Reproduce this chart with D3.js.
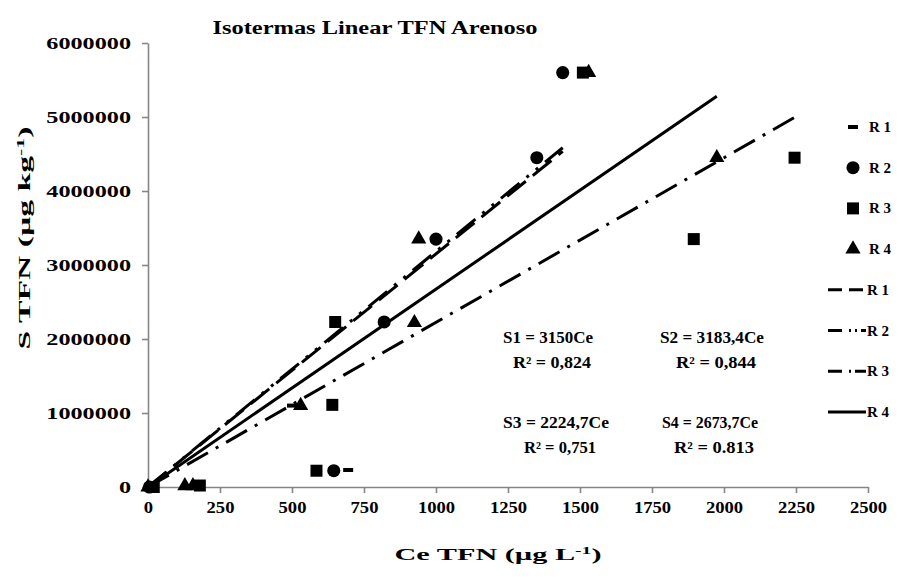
<!DOCTYPE html>
<html>
<head>
<meta charset="utf-8">
<script src="https://cdn.jsdelivr.net/npm/d3@7"></script>
<style>
  body { margin: 0; background: #fff; }
  text { font-family: "Liberation Serif", "Times New Roman", serif; font-weight: bold; fill: #000; }
</style>
</head>
<body>
<div id="chart"></div>
<script>
// series values (Ce in µg/L, S in µg/kg)
var r1X = [15, 500, 695, 820, 1000, 1350, 1440];
var r1Y = [0, 1100000, 230000, 2230000, 3350000, 4450000, 5600000];
var r2X = [5, 645, 820, 1000, 1350, 1440];
var r2Y = [0, 220000, 2230000, 3350000, 4450000, 5600000];
var r3X = [20, 180, 585, 640, 650, 1510, 1895, 2245];
var r3Y = [0, 20000, 220000, 1110000, 2230000, 5600000, 3350000, 4450000];
var r4X = [0, 128, 156, 530, 925, 940, 1530, 1975];
var r4Y = [0, 15000, 15000, 1100000, 2220000, 3350000, 5600000, 4450000];

var seriesNames = ["R1", "R2", "R3", "R4"];
var slopes = [3150, 3183.4, 2224.7, 2673.7];
var equations = ["S1 = 3150Ce", "S2 = 3183,4Ce", "S3 = 2224,7Ce", "S4 = 2673,7Ce"];
var rSquared = ["R² = 0,824", "R² = 0,844", "R² = 0,751", "R² = 0.813"];

var xTicks = [0, 250, 500, 750, 1000, 1250, 1500, 1750, 2000, 2250, 2500];
var yTicks = [0, 1000000, 2000000, 3000000, 4000000, 5000000, 6000000];

var width = 921, height = 586;

var svg = d3.select("#chart").append("svg")
    .attr("width", width)
    .attr("height", height);

var x = d3.scaleLinear().domain([0, 2500]).range([148, 868]);
var y = d3.scaleLinear().domain([0, 6000000]).range([487, 43]);

var axisGrey = "#868686";

// axes
var gx = svg.append("g")
    .attr("transform", "translate(0," + y(0) + ")")
    .call(d3.axisBottom(x).tickValues(xTicks).tickSize(6).tickSizeOuter(0).tickPadding(9)
      .tickFormat(d3.format("d")));
var gy = svg.append("g")
    .attr("transform", "translate(" + x(0) + ",0)")
    .call(d3.axisLeft(y).tickValues(yTicks).tickSize(6).tickSizeOuter(0).tickPadding(11)
      .tickFormat(d3.format("d")));

[gx, gy].forEach(function(g) {
  g.select(".domain").attr("stroke", axisGrey).attr("stroke-width", 1.6);
  g.selectAll(".tick line").attr("stroke", axisGrey).attr("stroke-width", 1.6);
  g.selectAll(".tick text")
      .attr("fill", "#000")
      .style("font-family", "Liberation Serif")
      .style("font-weight", "bold");
});
gx.selectAll(".tick text")
    .style("font-size", "16px")
    .attr("textLength", function(d) { return String(d).length * 9.3; })
    .attr("lengthAdjust", "spacingAndGlyphs");
gy.selectAll(".tick text")
    .style("font-size", "16px")
    .attr("textLength", function(d) { return String(d).length * 12.1; })
    .attr("lengthAdjust", "spacingAndGlyphs");

// trend lines (through origin, up to each series' largest Ce)
var allX = [r1X, r2X, r3X, r4X];
var allY = [r1Y, r2Y, r3Y, r4Y];
var dashes = ["24,9", "24,9,3,9,3,9", "24,9,3,9", null];

var line = d3.line()
    .x(function(d) { return x(d[0]); })
    .y(function(d) { return y(d[1]); });

slopes.forEach(function(k, i) {
  var xmax = d3.max(allX[i]);
  svg.append("path")
      .datum([[0, 0], [xmax, k * xmax]])
      .attr("d", line)
      .attr("fill", "none")
      .attr("stroke", "#000")
      .attr("stroke-width", 3)
      .attr("stroke-dasharray", dashes[i]);
});

// markers
function marker(g, i) {
  if (i === 0) {
    return g.append("rect").attr("x", -5).attr("y", -2).attr("width", 10).attr("height", 4);
  }
  var type = [null, d3.symbolCircle, d3.symbolSquare, d3.symbolTriangle][i];
  var size = [0, 135, 144, 100][i];
  return g.append("path").attr("d", d3.symbol().type(type).size(size)());
}

allX.forEach(function(xs, i) {
  xs.forEach(function(v, j) {
    var g = svg.append("g")
        .attr("transform", "translate(" + x(v) + "," + y(allY[i][j]) + ")");
    marker(g, i).attr("fill", "#000");
  });
});

// equations
var eqPos = [[548, 343], [712, 343], [556, 428], [710, 428]];
var eqLen = [90, 104, 106, 96];
var r2Len = [78, 80, 72, 80];
equations.forEach(function(s, i) {
  svg.append("text")
      .attr("x", eqPos[i][0]).attr("y", eqPos[i][1])
      .attr("text-anchor", "middle")
      .style("font-size", "16px")
      .attr("textLength", eqLen[i])
      .attr("lengthAdjust", "spacingAndGlyphs")
      .text(s);
  svg.append("text")
      .attr("x", eqPos[i][0] + 4).attr("y", eqPos[i][1] + 25)
      .attr("text-anchor", "middle")
      .style("font-size", "16px")
      .attr("textLength", r2Len[i])
      .attr("lengthAdjust", "spacingAndGlyphs")
      .text(rSquared[i]);
});

// legend: 4 marker entries then 4 line entries
var legendY = d3.range(8).map(function(i) { return 127 + i * 40.7; });
seriesNames.forEach(function(name, i) {
  var g = svg.append("g").attr("transform", "translate(853," + legendY[i] + ")");
  marker(g, i).attr("fill", "#000");
  svg.append("text")
      .attr("x", 869).attr("y", legendY[i] + 5)
      .style("font-size", "15px")
      .attr("textLength", 22)
      .attr("lengthAdjust", "spacing")
      .text(name);
});
seriesNames.forEach(function(name, i) {
  var ly = legendY[i + 4];
  svg.append("line")
      .attr("x1", 828).attr("x2", 866)
      .attr("y1", ly).attr("y2", ly)
      .attr("stroke", "#000")
      .attr("stroke-width", 3)
      .attr("stroke-dasharray", dashes[i] ? "14,7" + (i === 0 ? "" : (i === 1 ? ",2,4,2,4" : ",2,4")) : null);
  svg.append("text")
      .attr("x", 867).attr("y", ly + 5)
      .style("font-size", "15px")
      .attr("textLength", 22)
      .attr("lengthAdjust", "spacing")
      .text(name);
});

// title
svg.append("text")
    .attr("x", 375).attr("y", 34)
    .attr("text-anchor", "middle")
    .style("font-size", "18px")
    .attr("textLength", 325)
    .attr("lengthAdjust", "spacingAndGlyphs")
    .text("Isotermas Linear TFN Arenoso");

// x axis title
var xt = svg.append("text")
    .attr("x", 498).attr("y", 560)
    .attr("text-anchor", "middle")
    .style("font-size", "17px")
    .attr("textLength", 207)
    .attr("lengthAdjust", "spacingAndGlyphs");
xt.append("tspan").text("Ce   TFN    (µg L");
xt.append("tspan").attr("dy", -6).style("font-size", "11px").text("-1");
xt.append("tspan").attr("dy", 6).text(")");

// y axis title
var yt = svg.append("text")
    .attr("transform", "translate(30,238) rotate(-90)")
    .attr("text-anchor", "middle")
    .style("font-size", "17px")
    .attr("textLength", 223)
    .attr("lengthAdjust", "spacingAndGlyphs");
yt.append("tspan").text("S   TFN   (µg kg");
yt.append("tspan").attr("dy", -6).style("font-size", "11px").text("-1");
yt.append("tspan").attr("dy", 6).text(")");
</script>
</body>
</html>
